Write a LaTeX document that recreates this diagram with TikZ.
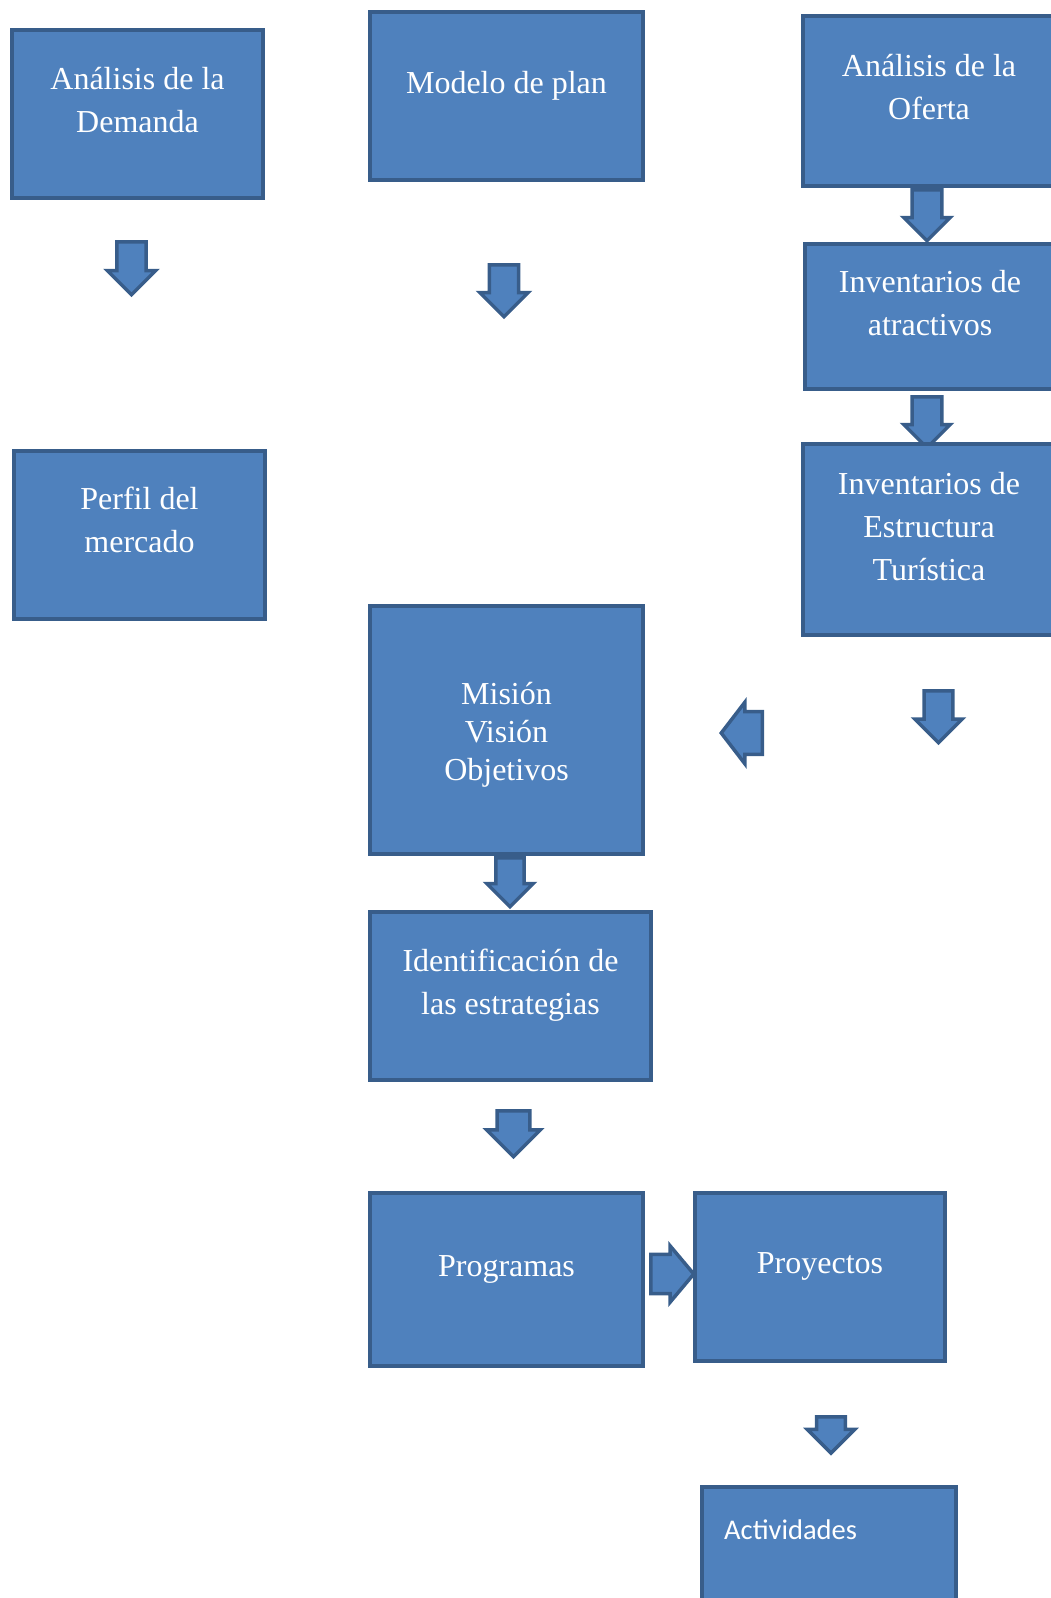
\documentclass[tikz,border=0pt]{standalone}
\usepackage{fontspec}
\setmainfont{Liberation Serif}
\newfontfamily\calibri{Carlito}
\usetikzlibrary{shapes.arrows}

\definecolor{boxfill}{HTML}{4F81BD}
\definecolor{boxline}{HTML}{385D8A}

\tikzset{
  box/.style={rectangle, draw=boxline, fill=boxfill, line width=4pt,
    inner sep=0pt, outer sep=0pt, anchor=north west},
  boxtext/.style={text=white, align=center, anchor=base, inner sep=0pt,
    font=\fontsize{32}{43}\selectfont},
  blockarrow/.style={single arrow, draw=boxline, fill=boxfill, line width=3.5pt,
    inner sep=9.25pt, outer sep=0pt, minimum width=48.5pt, anchor=tail},
  downarrow/.style={blockarrow, shape border rotate=270}
}

\begin{document}
\begin{tikzpicture}[x=1pt, y=-1pt]

    \useasboundingbox (0,0) rectangle (1051,1598);
    \clip (0,0) rectangle (1051,1598);

    %% Left column

    % Demand
    \node[box, minimum width=251, minimum height=168] (dem) at (12,30) {};
    \node[boxtext] (demt) at ([yshift=-102.5pt]dem.north) {Análisis de la\\Demanda};
    \node[downarrow, minimum height=53] (a1) at (131.5,241.75) {};

    % Market profile
    \node[box, minimum width=251, minimum height=168] (perfil) at (14,451) {};
    \node[boxtext] (perfilt) at ([yshift=-101pt]perfil.north) {Perfil del\\mercado};

    %% Middle column

    % Plan model
    \node[box, minimum width=273, minimum height=168] (plan) at (370,12) {};
    \node[boxtext] (plant) at ([yshift=-81.5pt]plan.north) {Modelo de plan};
    \node[downarrow, minimum height=52] (a2) at (504,264.75) {};

    % Mission, vision, goals
    \node[box, minimum width=273, minimum height=248] (mision) at (370,606) {};
    \node[boxtext, font=\fontsize{32}{38}\selectfont] (misiont)
        at ([yshift=-174pt]mision.north) {Misión\\Visión\\Objetivos};
    \node[downarrow, minimum height=49, minimum width=46.5] (a6) at (510,857.75) {};

    % Strategies
    \node[box, minimum width=281, minimum height=168] (ident) at (370,912) {};
    \node[boxtext] (identt) at ([yshift=-102pt]ident.north) {Identificación de\\las estrategias};
    \node[downarrow, minimum height=46, minimum width=54] (a7) at (513.5,1110.75) {};

    % Programs
    \node[box, minimum width=273, minimum height=173] (prog) at (370,1193) {};
    \node[boxtext] (progt) at ([yshift=-83pt]prog.north) {Programas};
    \node[blockarrow, inner xsep=4pt, inner ysep=14.25pt, minimum height=43, minimum width=56.5,
        single arrow tip angle=100] (a9) at (650.75,1274) {};

    % Projects
    \node[box, minimum width=250, minimum height=168] (proy) at (695,1193) {};
    \node[boxtext] (proyt) at ([yshift=-80pt]proy.north) {Proyectos};
    \node[downarrow, minimum height=36, minimum width=47.5] (a8) at (831,1416.75) {};

    % Activities
    \node[box, minimum width=254, minimum height=130] (activ) at (702,1487) {};
    \node[text=white, anchor=base west, inner sep=0pt, font=\calibri\fontsize{28.5}{34}\selectfont]
        (activt) at ([xshift=22pt, yshift=-52pt]activ.north west) {Actividades};

    %% Right column

    % Supply
    \node[box, minimum width=252, minimum height=170] (oferta) at (803,16) {};
    \node[boxtext] (ofertat) at ([yshift=-103pt]oferta.north) {Análisis de la\\Oferta};
    \node[downarrow, inner sep=10.75pt, minimum height=51, minimum width=46.5] (a3) at (927,189.75) {};

    % Attractions
    \node[box, minimum width=250, minimum height=145] (atrac) at (805,244) {};
    \node[boxtext] (atract) at ([yshift=-91pt]atrac.north) {Inventarios de\\atractivos};
    \node[downarrow, inner sep=10.75pt, minimum height=51, minimum width=46.5] (a4) at (927,396.75) {};

    % Tourist structure
    \node[box, minimum width=252, minimum height=191] (estruc) at (803,444) {};
    \node[boxtext] (estruct) at ([yshift=-136pt]estruc.north) {Inventarios de\\Estructura\\Turística};
    \node[downarrow, minimum height=52, minimum width=47.5] (a5) at (938.5,690.75) {};

    % Back to the mission
    \node[blockarrow, inner xsep=4pt, inner ysep=14.25pt, minimum height=41, minimum width=61.5,
        single arrow tip angle=105, shape border rotate=180] (a10) at (762.25,733) {};

\end{tikzpicture}
\end{document}
